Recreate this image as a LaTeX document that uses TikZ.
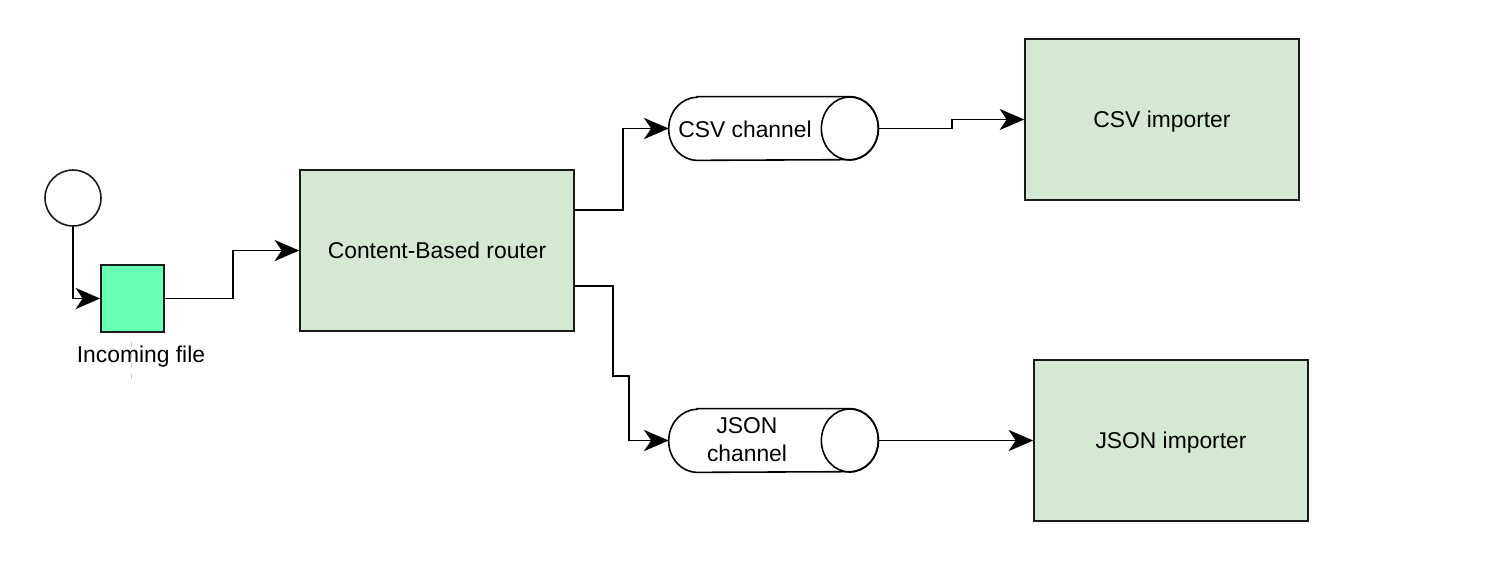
\documentclass[tikz,border=0pt]{standalone}
\usepackage{fontspec}
\setmainfont{Liberation Sans}
\usetikzlibrary{arrows.meta,calc}
\definecolor{boxgreen}{HTML}{D5E8D4}
\definecolor{mint}{HTML}{66FFB3}
\definecolor{edgegray}{HTML}{1A1A1A}
\begin{document}
\begin{tikzpicture}[x=0.02cm,y=0.02cm,
  font=\fontsize{13pt}{16pt}\selectfont,
  box/.style={draw=edgegray,line width=0.9pt,fill=boxgreen,minimum width=5.48cm,minimum height=3.22cm,inner sep=0pt,text depth=0pt},
  chan/.style={draw=none,minimum width=4.18cm,minimum height=1.26cm,inner sep=0pt},
  arr/.style={line width=1.1pt,-{Stealth[length=14pt,width=12pt,inset=4pt]}},
  lbl/.style={inner sep=0pt,align=center}]
\useasboundingbox (0,0) rectangle (1506,-562);
% start event
\node[circle,draw=edgegray,line width=0.9pt,fill=white,minimum size=1.12cm,inner sep=0pt] (circ) at (73,-198) {};
% incoming file
\node[draw=edgegray,line width=0.9pt,fill=mint,minimum width=1.26cm,minimum height=1.34cm,inner sep=0pt] (sq) at (132.5,-298.5) {};
\draw[gray!40,dashed,line width=0.5pt] (131,-342) -- (131,-382);
\node[lbl] (sqlabel) at (141,-357) {Incoming file};
% router
\node[box] (router) at (437,-250.5) {Content-Based router};
% importers
\node[box] (csvimp) at (1162,-119.5) {CSV importer};
\node[box] (jsonimp) at (1171,-440.5) {JSON importer};
% channels
\foreach \n/\cx/\cy in {csv/773.5/-128.5, json/773.5/-440.5}{
  \node[chan] (\n) at (\cx,\cy) {};
  \draw[line width=0.9pt,fill=white]
    ($(\n.north west)+(28.5,0)$) -- ($(\n.north east)+(-28.5,0)$)
    arc[start angle=90,end angle=-90,x radius=28.5,y radius=31.5]
    -- ($(\n.south west)+(28.5,0)$)
    arc[start angle=270,end angle=90,x radius=28.5,y radius=31.5] -- cycle;
  \draw[line width=0.9pt] ($(\n.east)+(-28.5,0)$) ellipse[x radius=28.5,y radius=31.5];
}
\node[lbl,text depth=0pt] (csvt) at (745,-129) {CSV channel};
\node[lbl] (jsont) at (747,-440) {JSON\\channel};
% connectors
\draw[arr] (circ.south) |- (sq.west);
\draw[arr] (sq.east) -- ++(68,0) |- (router.west);
\draw[arr] ($(router.east)+(0,40.5)$) -- ++(48,0) |- (csv.west);
\draw[arr] (csv.east) -- ++(74,0) |- (csvimp.west);
\draw[arr] ($(router.east)+(0,-35.5)$) -- ++(38,0) -- ++(0,-90) -- ++(16,0) |- (json.west);
\draw[arr] (json.east) -- (jsonimp.west);
\end{tikzpicture}
\end{document}
